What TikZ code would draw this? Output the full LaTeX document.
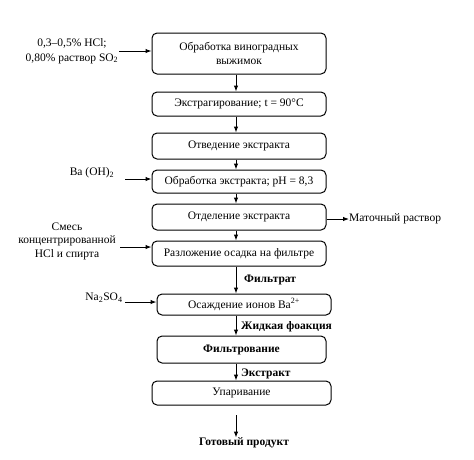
\documentclass[tikz,border=0pt]{standalone}
\usepackage{fontspec}
\setmainfont{Liberation Serif}
\usetikzlibrary{arrows.meta}
\begin{document}
\begin{tikzpicture}[x=1pt,y=-1pt,
  every node/.style={font=\fontsize{11.5}{13.5}\selectfont, inner sep=0pt},
  procbox/.style={draw, line width=1pt, rounded corners=5pt, align=center},
  arr/.style={-{Latex[length=6pt,width=4.5pt]}, line width=1pt},
  lbl/.style={font=\fontsize{11.5}{13.5}\selectfont\bfseries, anchor=west}]
\useasboundingbox (0,0) rectangle (474,459);
\coordinate (ax) at (236,0);
% boxes
\node[procbox, minimum width=174pt, minimum height=41pt] (b1) at (239,53.5) {Обработка виноградных\\выжимок};
\node[procbox, minimum width=174pt, minimum height=24pt] (b2) at (239,104) {Экстрагирование; t = 90°C};
\node[procbox, minimum width=174pt, minimum height=26pt] (b3) at (239,146) {Отведение экстракта};
\node[procbox, minimum width=174pt, minimum height=23pt] (b4) at (239,181.5) {Обработка экстракта; pH = 8,3};
\node[procbox, minimum width=174pt, minimum height=26pt] (b5) at (239,217) {Отделение экстракта};
\node[procbox, minimum width=174pt, minimum height=25pt] (b6) at (239,253.5) {Разложение осадка на фильтре};
\node[procbox, minimum width=174pt, minimum height=21pt] (b7) at (244,304.5) {Осаждение ионов Ba\textsuperscript{2+}};
\node[procbox, minimum width=169pt, minimum height=27pt, font=\fontsize{11.5}{13.5}\selectfont\bfseries] (b8) at (241.5,349.5) {Фильтрование};
\node[procbox, minimum width=179pt, minimum height=24pt] (b9) at (241.5,393) {Упаривание};
\node[font=\fontsize{11.5}{13.5}\selectfont\bfseries] (out) at (244,443) {Готовый продукт};
\coordinate (outtop) at (236,415);
% side texts
\node[align=center] (in1) at (72,51) {0,3–0,5\% HCl;\\[1pt]0,80\% раствор SO\textsubscript{2}};
\node (in4) at (92,173) {Ba (OH)\textsubscript{2}};
\node[align=center] (in6) at (67,241) {Смесь\\концентрированной\\HCl и спирта};
\node (in7) at (104,298) {Na\textsubscript{2}SO\textsubscript{4}};
\node[anchor=west] (mr) at (349,219) {Маточный раствор};
% input arrows
\draw[arr] (119,51) -- (b1.west |- 0,51);
\draw[arr] (125,179) -- (b4.west |- 0,179);
\draw[arr] (120,247) -- (b6.west |- 0,247);
\draw[arr] (125,302) -- (b7.west |- 0,302);
\draw[arr] (b5.east |- 0,219) -- (mr.west);
% main flow
\draw[arr] (b1.south -| ax) -- (b2.north -| ax);
\draw[arr] (b2.south -| ax) -- (b3.north -| ax);
\draw[arr] (b3.south -| ax) -- (b4.north -| ax);
\draw[arr] (b4.south -| ax) -- (b5.north -| ax);
\draw[arr] (b5.south -| ax) -- (b6.north -| ax);
\draw[arr] (b6.south -| ax) -- (b7.north -| ax);
\draw[arr] (b7.south -| ax) -- (b8.north -| ax);
\draw[arr] (b8.south -| ax) -- (b9.north -| ax);
\draw[arr] (outtop) -- (out.north -| ax);
% flow labels
\node[lbl] (l1) at (244,280) {Фильтрат};
\node[lbl] (l2) at (241,326.5) {Жидкая фоакция};
\node[lbl] (l3) at (241,374) {Экстракт};
\end{tikzpicture}
\end{document}
